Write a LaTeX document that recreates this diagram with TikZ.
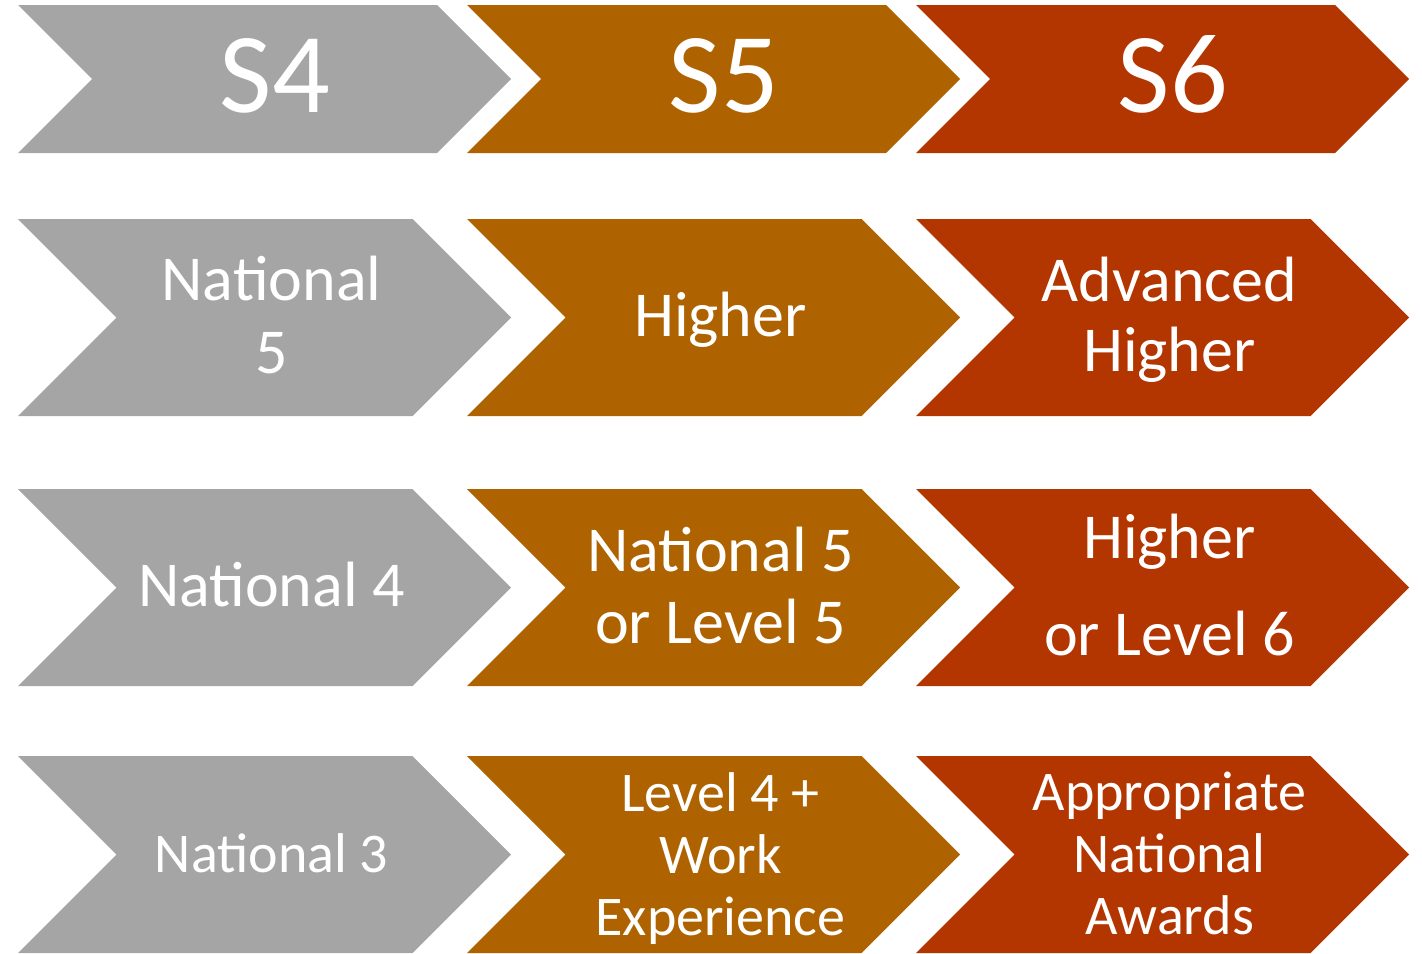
\documentclass[tikz,border=0pt]{standalone}
\usepackage{fontspec}
\setmainfont{Carlito}
\usetikzlibrary{positioning}

\definecolor{stagegrey}{HTML}{A5A5A5}
\definecolor{stagebrown}{HTML}{AE6300}
\definecolor{stagered}{HTML}{B33500}

\tikzset{
  lbl/.style={text=white, align=center, anchor=base, inner sep=0pt},
  big/.style={lbl, font=\fontsize{57}{62}\selectfont},
  mid/.style={lbl, font=\fontsize{32}{#1}\selectfont},
  small/.style={lbl, font=\fontsize{28}{#1}\selectfont}
}

\begin{document}
\begin{tikzpicture}[x=0.5pt,y=-0.5pt]
\useasboundingbox (0,0) rectangle (1422,953);
% chevrons, one row at a time
\foreach \top/\h in {5/148, 219/197, 489/197, 756/197}
  \foreach \c/\col in {0/stagegrey, 449/stagebrown, 898/stagered}
  {
    \pgfmathsetmacro\w{493-\h/2}
    \fill[\col] (18+\c,\top) -- ++(\w,0) -- ++(\h/2,\h/2) -- ++(-\h/2,\h/2)
      -- ++(-\w,0) -- ++(\h/2,-\h/2) -- cycle;
  }
% year headings
\node[big] (s4) at (275,112) {S4};
\node[big] (s5) at (724,112) {S5};
\node[big] (s6) at (1173,112) {S6};
% top level (base = last line)
\node[mid=36.5] (n5) at (271.5,373) {National\\5};
\node[mid=36] (hi) at (720.5,336) {Higher};
\node[mid=35] (ah) at (1169.5,371) {Advanced\\Higher};
% middle level
\node[mid=36] (n4) at (271.5,606) {National 4};
\node[mid=36] (n5l5) at (720.5,643) {National 5\\or Level 5};
\node[mid=48.5] (hil6) at (1169.5,655) {Higher\\or Level 6};
% lowest level
\node[small=32] (n3) at (271.5,872) {National 3};
\node[small=31] (l4we) at (720.5,935) {Level 4 +\\Work\\Experience};
\node[small=31] (ana) at (1169.5,934) {Appropriate\\National\\Awards};
\end{tikzpicture}
\end{document}
